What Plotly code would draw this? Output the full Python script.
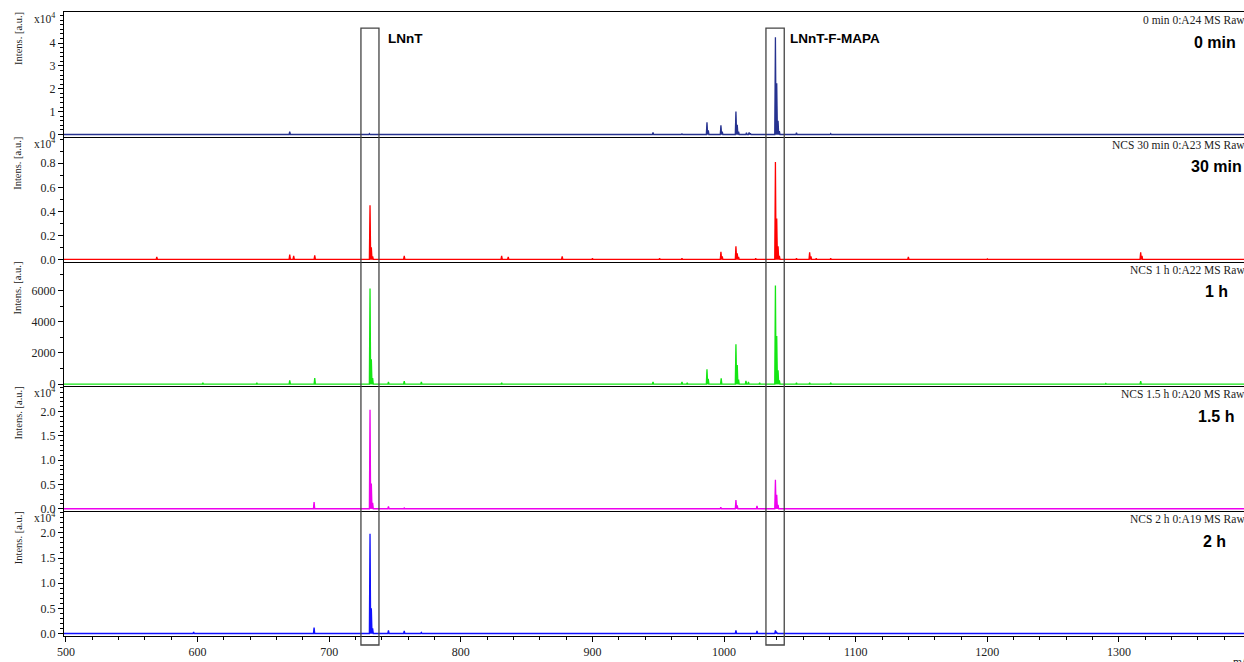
import plotly.graph_objects as go
from plotly.subplots import make_subplots

# ---------------- data (m/z, intensity in a.u.) ----------------
mz_0min = [670, 730.5, 740, 946, 968, 987, 988, 997.6, 998.6, 1009, 1010, 1011,
           1017, 1019, 1020, 1039, 1040, 1041, 1042, 1055, 1081, 1200]
int_0min = [1300, 400, 300, 900, 300, 5400, 1800, 4000, 1200, 10100, 4200, 1200,
            800, 900, 500, 42600, 22400, 6000, 1500, 800, 400, 300]

mz_30min = [569, 670, 673, 689, 731, 732, 733, 757, 831, 836, 877, 900, 951, 968,
            997.6, 998.6, 1009, 1010, 1011, 1024, 1039, 1040, 1041, 1042, 1055,
            1065, 1066, 1070, 1081, 1140, 1200, 1316.5, 1317.5]
int_30min = [200, 400, 300, 350, 4500, 1000, 250, 300, 300, 200, 250, 100, 100, 100,
             630, 250, 1100, 500, 200, 100, 8100, 3400, 1100, 300, 100,
             600, 250, 100, 100, 200, 50, 600, 300]

mz_1h = [604, 645, 670, 689, 731, 732, 733, 745, 757, 770, 831, 946, 968, 972,
         987, 988, 997.8, 1009, 1010, 1011, 1016.6, 1018.5, 1027, 1039, 1040, 1041,
         1042, 1055, 1065, 1081, 1290, 1316.5]
int_1h = [100, 100, 250, 400, 6130, 1600, 400, 150, 200, 150, 100, 150, 150, 100,
          960, 350, 380, 2550, 1230, 300, 210, 150, 100, 6320, 3080, 890,
          250, 100, 100, 100, 50, 200]

mz_1_5h = [597, 688.5, 731, 732, 733, 745, 757, 770, 997.5, 1009, 1010, 1025,
           1039, 1040, 1041]
int_1_5h = [100, 1400, 20400, 5200, 1200, 500, 150, 150, 300, 1800, 700, 600,
            6000, 2900, 800]

mz_2h = [597, 688.5, 731, 732, 733, 745, 757, 770, 1009, 1025, 1039, 1040]
int_2h = [300, 1200, 19800, 5000, 1000, 600, 500, 200, 600, 500, 600, 200]

run_labels = ["0 min 0:A24 MS Raw", "NCS 30 min 0:A23 MS Raw", "NCS 1 h 0:A22 MS Raw",
              "NCS 1.5 h 0:A20 MS Raw", "NCS 2 h 0:A19 MS Raw"]
time_labels = ["0 min", "30 min", "1 h", "1.5 h", "2 h"]

yticks_0min = [0, 1, 2, 3, 4]
yticks_30min = [0.0, 0.2, 0.4, 0.6, 0.8]
yticks_1h = [0, 2000, 4000, 6000]
yticks_1_5h = [0.0, 0.5, 1.0, 1.5, 2.0]
yticks_2h = [0.0, 0.5, 1.0, 1.5, 2.0]
xticks = [500, 600, 700, 800, 900, 1000, 1100, 1200, 1300]

box_lnnt = [724.1, 737.8]
box_mapa = [1031.8, 1045.7]

# ---------------- style ----------------
X_RANGE = [498.5, 1395.0]
HW = 0.5
SERIF = "Liberation Serif"
SANS = "Liberation Sans"

panels = [
    dict(mz=mz_0min, inten=int_0min, color="#26328f", scale=1e4, rng=[-0.1, 5.36],
         ticks=yticks_0min, fmt="d", minor=0.2, exp=True, bx=-6),
    dict(mz=mz_30min, inten=int_30min, color="#ff0000", scale=1e4, rng=[-0.018, 1.02],
         ticks=yticks_30min, fmt=".1f", minor=0.1, exp=True, bx=0),
    dict(mz=mz_1h, inten=int_1h, color="#14e614", scale=1, rng=[-140, 7850],
         ticks=yticks_1h, fmt="d", minor=1000, exp=False, bx=-14),
    dict(mz=mz_1_5h, inten=int_1_5h, color="#ee00ee", scale=1e4, rng=[-0.05, 2.52],
         ticks=yticks_1_5h, fmt=".1f", minor=0.1, exp=True, bx=-8),
    dict(mz=mz_2h, inten=int_2h, color="#1010ff", scale=1e4, rng=[-0.05, 2.43],
         ticks=yticks_2h, fmt=".1f", minor=0.1, exp=True, bx=-16),
]

fig = make_subplots(rows=5, cols=1, shared_xaxes=True, vertical_spacing=0)

for i, p in enumerate(panels):
    pts = sorted(zip(p["mz"], p["inten"]))
    xs, ys = [X_RANGE[0]], [0]
    for m, v in pts:
        xs += [m - HW, m, m + HW]
        ys += [0, v / p["scale"], 0]
    xs.append(X_RANGE[1])
    ys.append(0)
    fig.add_trace(go.Scatter(x=xs, y=ys, mode="lines", fill="tozeroy",
                             fillcolor=p["color"],
                             line=dict(color=p["color"], width=1.3),
                             showlegend=False, hoverinfo="skip"),
                  row=i + 1, col=1)
    fig.update_yaxes(row=i + 1, col=1, range=p["rng"], tickvals=p["ticks"],
                     tickformat=p["fmt"], showgrid=False, zeroline=False,
                     showline=True, linecolor="black", linewidth=1,
                     ticks="outside", ticklen=5, tickcolor="black",
                     minor=dict(dtick=p["minor"], ticks="outside", ticklen=3,
                                tickcolor="black", showgrid=False),
                     tickfont=dict(family=SERIF, size=12, color="#222"))
    last = (i == 4)
    fig.update_xaxes(row=i + 1, col=1, range=X_RANGE, showgrid=False, zeroline=False,
                     showline=True, mirror=(i == 0), linecolor="black", linewidth=1,
                     ticks="outside" if last else "", showticklabels=last)

    top = 1 - i * 0.2
    fig.add_annotation(xref="paper", yref="paper", x=1, y=top, xanchor="right",
                       yanchor="middle", xshift=3, yshift=-8, text=run_labels[i],
                       showarrow=False, font=dict(family=SERIF, size=11.5, color="#222"))
    fig.add_annotation(xref="paper", yref="paper", x=1, y=top, xanchor="right",
                       yanchor="middle", xshift=p["bx"], yshift=-30,
                       text="<b>%s</b>" % time_labels[i], showarrow=False,
                       font=dict(family=SANS, size=16, color="black"))
    fig.add_annotation(xref="paper", yref="paper", x=0, y=top, xanchor="center",
                       yanchor="middle", xshift=-46, yshift=-27, textangle=-90,
                       text="Intens. [a.u.]", showarrow=False,
                       font=dict(family=SERIF, size=10.5, color="#222"))
    if p["exp"]:
        fig.add_annotation(xref="paper", yref="paper", x=0, y=top, xanchor="right",
                           yanchor="middle", xshift=-7, yshift=-6,
                           text="x10<sup>4</sup>", showarrow=False,
                           font=dict(family=SERIF, size=11.5, color="#222"))

fig.update_xaxes(row=5, col=1, tickvals=xticks, ticklen=5, tickcolor="black",
                 minor=dict(dtick=20, ticks="outside", ticklen=3, tickcolor="black",
                            showgrid=False),
                 tickfont=dict(family=SERIF, size=12, color="#222"))

for b in (box_lnnt, box_mapa):
    fig.add_shape(type="rect", xref="x5", yref="paper", x0=b[0], x1=b[1],
                  y0=-0.0144, y1=0.974, line=dict(color="#444", width=1.3),
                  fillcolor="rgba(0,0,0,0)")

fig.add_annotation(xref="x5", yref="paper", x=743, y=0.958, xanchor="left",
                   yanchor="middle", text="<b>LNnT</b>", showarrow=False,
                   font=dict(family=SANS, size=13.5, color="black"))
fig.add_annotation(xref="x5", yref="paper", x=1048.5, y=0.958, xanchor="left",
                   yanchor="middle", text="<b>LNnT-F-MAPA</b>", showarrow=False,
                   font=dict(family=SANS, size=13.5, color="black"))
fig.add_annotation(xref="paper", yref="paper", x=1, y=0, xanchor="left",
                   yanchor="top", xshift=-13, yshift=-18, text="m/z", showarrow=False,
                   font=dict(family=SERIF, size=11.5, color="#222"))

fig.update_layout(width=1244, height=662, margin=dict(l=64, r=0, t=12, b=26),
                  paper_bgcolor="white", plot_bgcolor="white")

fig.write_html("out.html")
